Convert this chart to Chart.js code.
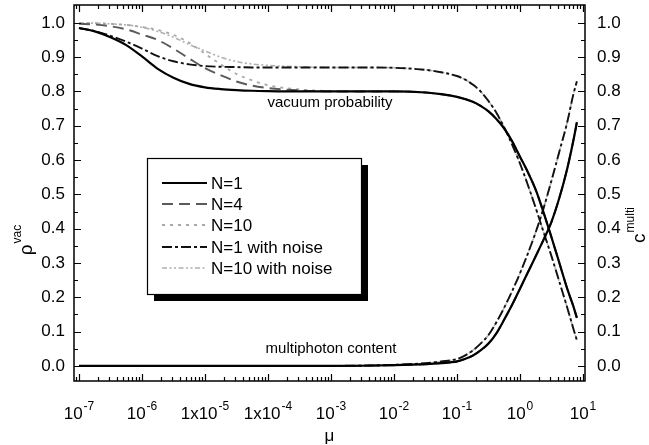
<!DOCTYPE html>
<html><head><meta charset="utf-8">
<script src="https://cdn.jsdelivr.net/npm/chart.js@4.4.0/dist/chart.umd.min.js"></script>
<style>html,body{margin:0;padding:0;background:#fff}canvas{display:block}</style>
</head><body>
<canvas id="c" width="649" height="445"></canvas>
<script>
// ---- data ----
const mu = [1e-7, 1.78e-7, 3.16e-7, 5.62e-7, 1e-6, 1.78e-6, 3.16e-6, 5.62e-6, 1e-5, 1.78e-5, 3.16e-5, 5.62e-5,
            1e-4, 3.16e-4, 1e-3, 3.16e-3, 1e-2, 3.16e-2, 0.0562, 0.1, 0.133, 0.178, 0.237, 0.316, 0.422, 0.562,
            0.75, 1, 1.33, 1.78, 2.37, 3.16, 4.22, 5.62, 7.0, 8.0];

const vacN1       = [0.985, 0.975, 0.958, 0.935, 0.902, 0.866, 0.840, 0.822, 0.812, 0.807, 0.804, 0.802,
                     0.801, 0.800, 0.800, 0.800, 0.800, 0.797, 0.792, 0.784, 0.778, 0.770, 0.758, 0.742, 0.720, 0.692,
                     0.655, 0.610, 0.565, 0.513, 0.447, 0.375, 0.300, 0.225, 0.175, 0.140];
const vacN4       = [0.997, 0.995, 0.990, 0.981, 0.966, 0.950, 0.925, 0.896, 0.868, 0.847, 0.829, 0.817,
                     0.810, 0.803, 0.800, 0.800, 0.800, 0.797, 0.792, 0.784, 0.778, 0.770, 0.758, 0.742, 0.720, 0.692,
                     0.655, 0.610, 0.565, 0.513, 0.447, 0.375, 0.300, 0.225, 0.175, 0.140];
const vacN10      = [1.000, 0.999, 0.997, 0.994, 0.988, 0.979, 0.965, 0.942, 0.910, 0.879, 0.851, 0.832,
                     0.818, 0.806, 0.801, 0.800, 0.800, 0.797, 0.792, 0.784, 0.778, 0.770, 0.758, 0.742, 0.720, 0.692,
                     0.655, 0.610, 0.565, 0.513, 0.447, 0.375, 0.300, 0.225, 0.175, 0.140];
const vacN1Noise  = [0.985, 0.976, 0.962, 0.945, 0.925, 0.903, 0.888, 0.879, 0.874, 0.872, 0.871, 0.870,
                     0.870, 0.870, 0.870, 0.870, 0.869, 0.863, 0.856, 0.845, 0.835, 0.820, 0.800, 0.772, 0.738, 0.695,
                     0.645, 0.590, 0.528, 0.460, 0.390, 0.320, 0.245, 0.170, 0.110, 0.075];
const vacN10Noise = [1.000, 0.999, 0.997, 0.994, 0.987, 0.975, 0.958, 0.937, 0.918, 0.900, 0.887, 0.880,
                     0.876, 0.872, 0.870, 0.870, 0.869, 0.863, 0.856, 0.845, 0.835, 0.820, 0.800, 0.772, 0.738, 0.695,
                     0.645, 0.590, 0.528, 0.460, 0.390, 0.320, 0.245, 0.170, 0.110, 0.075];

const multiN1       = [0, 0, 0, 0, 0, 0, 0, 0, 0, 0, 0, 0,
                       0, 0, 0, 0.0005, 0.002, 0.005, 0.008, 0.013, 0.020, 0.030, 0.045, 0.065, 0.095, 0.135,
                       0.178, 0.225, 0.272, 0.320, 0.368, 0.420, 0.490, 0.575, 0.655, 0.710];
const multiN4       = [0, 0, 0, 0, 0, 0, 0, 0, 0, 0, 0, 0,
                       0, 0, 0, 0.0005, 0.002, 0.005, 0.008, 0.013, 0.020, 0.030, 0.045, 0.065, 0.095, 0.135,
                       0.178, 0.225, 0.272, 0.320, 0.368, 0.420, 0.490, 0.575, 0.655, 0.710];
const multiN10      = [0, 0, 0, 0, 0, 0, 0, 0, 0, 0, 0, 0,
                       0, 0, 0, 0.0005, 0.002, 0.005, 0.008, 0.013, 0.020, 0.030, 0.045, 0.065, 0.095, 0.135,
                       0.178, 0.225, 0.272, 0.320, 0.368, 0.420, 0.490, 0.575, 0.655, 0.710];
const multiN1Noise  = [0, 0, 0, 0, 0, 0, 0, 0, 0, 0, 0, 0,
                       0, 0, 0, 0.001, 0.003, 0.008, 0.013, 0.020, 0.030, 0.045, 0.065, 0.090, 0.127, 0.170,
                       0.218, 0.270, 0.327, 0.390, 0.460, 0.540, 0.625, 0.710, 0.790, 0.830];
const multiN10Noise = [0, 0, 0, 0, 0, 0, 0, 0, 0, 0, 0, 0,
                       0, 0, 0, 0.001, 0.003, 0.008, 0.013, 0.020, 0.030, 0.045, 0.065, 0.090, 0.127, 0.170,
                       0.218, 0.270, 0.327, 0.390, 0.460, 0.540, 0.625, 0.710, 0.790, 0.830];

const seriesNames = ['N=1', 'N=4', 'N=10', 'N=1 with noise', 'N=10 with noise'];
const xTickValues = [1e-7, 1e-6, 1e-5, 1e-4, 1e-3, 1e-2, 1e-1, 1, 10];
const xTickBase   = ['10', '10', '1x10', '1x10', '10', '10', '10', '10', '10'];
const xTickExp    = ['-7', '-6', '-5', '-4', '-3', '-2', '-1', '0', '1'];
const yTickValues = [0.0, 0.1, 0.2, 0.3, 0.4, 0.5, 0.6, 0.7, 0.8, 0.9, 1.0];
const yTickLabels = ['0.0', '0.1', '0.2', '0.3', '0.4', '0.5', '0.6', '0.7', '0.8', '0.9', '1.0'];

// ---- styles ----
const FONT = "'Liberation Sans', Arial, Helvetica, sans-serif";
const styles = [
  {color: '#000000', width: 2.2, dash: []},
  {color: '#5a5a5a', width: 1.9, dash: [11, 6]},
  {color: '#a8a8a8', width: 1.8, dash: [3, 5]},
  {color: '#111111', width: 1.9, dash: [10, 3, 3, 3]},
  {color: '#b0b0b0', width: 1.6, dash: [5, 2.5, 2, 2.5, 2, 2.5]}
];
const drawOrder = [1, 3, 4, 2, 5]; // smaller = drawn on top

const vacData = [vacN1, vacN4, vacN10, vacN1Noise, vacN10Noise];
const multiData = [multiN1, multiN4, multiN10, multiN1Noise, multiN10Noise];

function mkPoints(arr) { return mu.map((m, i) => ({x: m, y: arr[i]})); }

const datasets = [];
vacData.forEach((arr, i) => datasets.push({
  label: seriesNames[i], data: mkPoints(arr), yAxisID: 'y',
  borderColor: styles[i].color, borderWidth: styles[i].width, borderDash: styles[i].dash,
  pointRadius: 0, fill: false, cubicInterpolationMode: 'monotone', order: drawOrder[i]
}));
multiData.forEach((arr, i) => datasets.push({
  label: seriesNames[i] + ' (multi)', data: mkPoints(arr), yAxisID: 'y2',
  borderColor: styles[i].color, borderWidth: styles[i].width, borderDash: styles[i].dash,
  pointRadius: 0, fill: false, cubicInterpolationMode: 'monotone', order: drawOrder[i]
}));

function supText(ctx, base, sup, x, y, align, baseSize, supSize, rise) {
  ctx.font = baseSize + 'px ' + FONT;
  const wb = ctx.measureText(base).width;
  ctx.font = supSize + 'px ' + FONT;
  const ws = ctx.measureText(sup).width;
  const total = wb + ws + 1;
  let x0 = x;
  if (align === 'center') x0 = x - total / 2;
  ctx.textAlign = 'left';
  ctx.textBaseline = 'alphabetic';
  ctx.font = baseSize + 'px ' + FONT;
  ctx.fillText(base, x0, y);
  ctx.font = supSize + 'px ' + FONT;
  ctx.fillText(sup, x0 + wb + 1, y - rise);
}

const decor = {
  id: 'decor',
  afterDatasetsDraw(chart) {
    const ctx = chart.ctx;
    const a = chart.chartArea;
    const xs = chart.scales.x, ys = chart.scales.y;
    ctx.save();
    ctx.fillStyle = '#000';
    ctx.strokeStyle = '#000';
    ctx.setLineDash([]);
    // frame
    ctx.lineWidth = 1.5;
    ctx.strokeRect(a.left, a.top, a.right - a.left, a.bottom - a.top);
    // x ticks
    ctx.lineWidth = 1.2;
    const xmin = xs.min, xmax = xs.max;
    for (let e = -8; e <= 1; e++) {
      for (let k = 1; k <= 9; k++) {
        const v = k * Math.pow(10, e);
        if (v < xmin || v > xmax) continue;
        const px = Math.round(xs.getPixelForValue(v)) + 0.5;
        const len = (k === 1) ? 7 : 4;
        ctx.beginPath();
        ctx.moveTo(px, a.bottom); ctx.lineTo(px, a.bottom - len);
        ctx.moveTo(px, a.top); ctx.lineTo(px, a.top + len);
        ctx.stroke();
      }
    }
    // y ticks
    for (let i = 0; i <= 20; i++) {
      const v = i * 0.05;
      const py = Math.round(ys.getPixelForValue(v)) + 0.5;
      const len = (i % 2 === 0) ? 7 : 4;
      ctx.beginPath();
      ctx.moveTo(a.left, py); ctx.lineTo(a.left + len, py);
      ctx.moveTo(a.right, py); ctx.lineTo(a.right - len, py);
      ctx.stroke();
    }
    // y tick labels
    ctx.font = '17px ' + FONT;
    ctx.textBaseline = 'middle';
    yTickValues.forEach((v, i) => {
      const py = ys.getPixelForValue(v);
      ctx.textAlign = 'right';
      ctx.fillText(yTickLabels[i], a.left - 9, py);
      ctx.textAlign = 'left';
      ctx.fillText(yTickLabels[i], a.right + 12, py);
    });
    // x tick labels
    xTickValues.forEach((v, i) => {
      const px = xs.getPixelForValue(v);
      supText(ctx, xTickBase[i], xTickExp[i], px, a.bottom + 38, 'center', 17, 12, 9);
    });
    // x title
    ctx.font = '17px ' + FONT;
    ctx.textAlign = 'center';
    ctx.textBaseline = 'alphabetic';
    ctx.fillText('\u03bc', (a.left + a.right) / 2, 441);
    // left y title
    ctx.save();
    ctx.translate(32, 240);
    ctx.rotate(-Math.PI / 2);
    supText(ctx, '\u03c1', 'vac', 0, 0, 'center', 19, 12, 11);
    ctx.restore();
    // right y title
    ctx.save();
    ctx.translate(645, 225);
    ctx.rotate(-Math.PI / 2);
    supText(ctx, 'c', 'multi', 0, 0, 'center', 19, 12, 11);
    ctx.restore();
    // annotations
    ctx.font = '15px ' + FONT;
    ctx.textAlign = 'center';
    ctx.textBaseline = 'middle';
    ctx.fillText('vacuum probability', 330, 103);
    ctx.fillText('multiphoton content', 331, 349);
    // legend
    const L = 147, T = 158, R = 361, B = 294;
    ctx.fillStyle = '#000';
    ctx.fillRect(L + 7, T + 7, R - L, B - T);
    ctx.fillStyle = '#fff';
    ctx.fillRect(L, T, R - L, B - T);
    ctx.lineWidth = 1.2;
    ctx.strokeStyle = '#000';
    ctx.strokeRect(L + 0.5, T + 0.5, R - L, B - T);
    const rows = [183, 204, 225, 247, 268];
    seriesNames.forEach((n, i) => {
      ctx.save();
      ctx.strokeStyle = styles[i].color;
      ctx.lineWidth = styles[i].width;
      ctx.setLineDash(styles[i].dash);
      ctx.beginPath();
      ctx.moveTo(162, rows[i]); ctx.lineTo(207, rows[i]);
      ctx.stroke();
      ctx.restore();
      ctx.fillStyle = '#000';
      ctx.font = '17px ' + FONT;
      ctx.textAlign = 'left';
      ctx.textBaseline = 'middle';
      ctx.fillText(n, 211, rows[i] + 1);
    });
    ctx.restore();
  }
};

new Chart(document.getElementById('c'), {
  type: 'line',
  data: {datasets},
  options: {
    responsive: false,
    devicePixelRatio: 1,
    animation: false,
    layout: {padding: {left: 74, top: 5, right: 64, bottom: 64}},
    plugins: {legend: {display: false}, tooltip: {enabled: false}},
    scales: {
      x: {type: 'logarithmic', display: false, min: Math.pow(10, -7.079), max: Math.pow(10, 1.032)},
      y: {type: 'linear', display: false, min: -0.044, max: 1.052},
      y2: {type: 'linear', display: false, min: -0.044, max: 1.052}
    }
  },
  plugins: [decor]
});
</script>
</body></html>
